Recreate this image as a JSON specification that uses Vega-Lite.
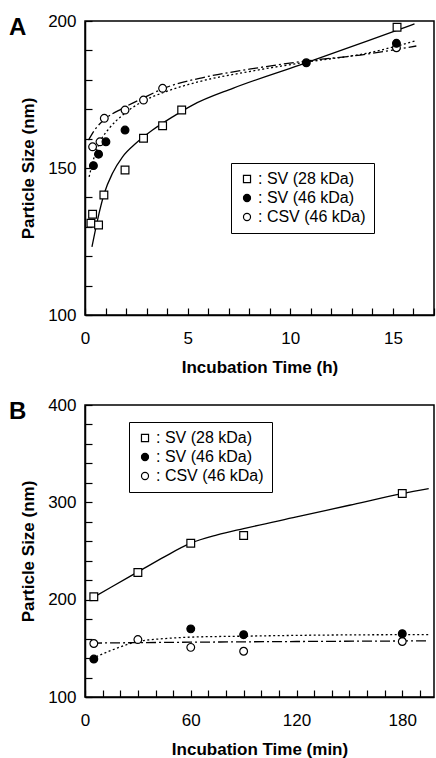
{
  "$schema": "https://vega.github.io/schema/vega-lite/v6.json",
  "background": "white",
  "padding": {"left": 8, "top": 11, "right": 0, "bottom": 0},
  "config": {
    "font": "Liberation Sans",
    "view": {"stroke": "black", "strokeWidth": 1.5},
    "axis": {
      "grid": false,
      "domainColor": "black",
      "domainWidth": 1.5,
      "ticks": true,
      "tickColor": "black",
      "tickOpacity": 1,
      "tickWidth": 1.2,
      "tickSize": -7,
      "labelColor": "black",
      "labelFont": "Liberation Sans",
      "labelFontSize": 17,
      "labelFlush": false,
      "labelOverlap": false,
      "labelBound": false,
      "titleFont": "Liberation Sans",
      "titleFontSize": 17,
      "titleFontWeight": "bold",
      "titleColor": "black"
    },
    "legend": {
      "strokeColor": "black",
      "padding": 8,
      "labelFont": "Liberation Sans",
      "labelFontSize": 16,
      "labelColor": "black",
      "labelOffset": 3,
      "rowPadding": 3,
      "symbolSize": 50
    },
    "concat": {"spacing": 19}
  },
  "datasets": {
    "pointsA": [
      {"series": "SV (28 kDa)", "t": 0.29, "size": 131.2},
      {"series": "SV (28 kDa)", "t": 0.37, "size": 134.3},
      {"series": "SV (28 kDa)", "t": 0.66, "size": 130.6},
      {"series": "SV (28 kDa)", "t": 0.92, "size": 140.8},
      {"series": "SV (28 kDa)", "t": 1.95, "size": 149.3},
      {"series": "SV (28 kDa)", "t": 2.85, "size": 160.1},
      {"series": "SV (28 kDa)", "t": 3.78, "size": 164.4},
      {"series": "SV (28 kDa)", "t": 4.71, "size": 169.7},
      {"series": "SV (28 kDa)", "t": 15.2, "size": 197.9},
      {"series": "CSV (46 kDa)", "t": 0.37, "size": 157.2},
      {"series": "CSV (46 kDa)", "t": 0.73, "size": 158.9},
      {"series": "CSV (46 kDa)", "t": 0.94, "size": 166.9},
      {"series": "CSV (46 kDa)", "t": 1.95, "size": 169.7},
      {"series": "CSV (46 kDa)", "t": 2.85, "size": 173.1},
      {"series": "CSV (46 kDa)", "t": 3.78, "size": 177.1},
      {"series": "CSV (46 kDa)", "t": 15.17, "size": 190.9},
      {"series": "SV (46 kDa)", "t": 0.41, "size": 150.8},
      {"series": "SV (46 kDa)", "t": 0.66, "size": 154.7},
      {"series": "SV (46 kDa)", "t": 1.02, "size": 158.9},
      {"series": "SV (46 kDa)", "t": 1.95, "size": 162.9},
      {"series": "SV (46 kDa)", "t": 10.78, "size": 185.8},
      {"series": "SV (46 kDa)", "t": 15.17, "size": 192.4}
    ],
    "curvesA": [
      {"series": "SV (28 kDa)", "t": 0.34, "size": 123.2},
      {"series": "SV (28 kDa)", "t": 0.61, "size": 132.3},
      {"series": "SV (28 kDa)", "t": 0.94, "size": 141.4},
      {"series": "SV (28 kDa)", "t": 1.34, "size": 148.2},
      {"series": "SV (28 kDa)", "t": 1.83, "size": 153.8},
      {"series": "SV (28 kDa)", "t": 2.48, "size": 158.4},
      {"series": "SV (28 kDa)", "t": 3.29, "size": 162.9},
      {"series": "SV (28 kDa)", "t": 4.27, "size": 167.4},
      {"series": "SV (28 kDa)", "t": 5.24, "size": 171.4},
      {"series": "SV (28 kDa)", "t": 7.2, "size": 177.1},
      {"series": "SV (28 kDa)", "t": 10.45, "size": 185.0},
      {"series": "SV (28 kDa)", "t": 13.7, "size": 193.1},
      {"series": "SV (28 kDa)", "t": 16.05, "size": 199.0},
      {"series": "SV (46 kDa)", "t": 0.2, "size": 147.0},
      {"series": "SV (46 kDa)", "t": 0.45, "size": 153.8},
      {"series": "SV (46 kDa)", "t": 0.78, "size": 159.5},
      {"series": "SV (46 kDa)", "t": 1.18, "size": 163.5},
      {"series": "SV (46 kDa)", "t": 1.83, "size": 168.0},
      {"series": "SV (46 kDa)", "t": 2.8, "size": 172.6},
      {"series": "SV (46 kDa)", "t": 3.95, "size": 176.0},
      {"series": "SV (46 kDa)", "t": 5.57, "size": 179.4},
      {"series": "SV (46 kDa)", "t": 8.0, "size": 182.8},
      {"series": "SV (46 kDa)", "t": 10.76, "size": 186.0},
      {"series": "SV (46 kDa)", "t": 13.7, "size": 189.0},
      {"series": "SV (46 kDa)", "t": 16.14, "size": 193.3},
      {"series": "CSV (46 kDa)", "t": 0.17, "size": 159.5},
      {"series": "CSV (46 kDa)", "t": 0.53, "size": 163.5},
      {"series": "CSV (46 kDa)", "t": 1.02, "size": 166.9},
      {"series": "CSV (46 kDa)", "t": 1.83, "size": 170.3},
      {"series": "CSV (46 kDa)", "t": 2.8, "size": 173.7},
      {"series": "CSV (46 kDa)", "t": 3.95, "size": 177.4},
      {"series": "CSV (46 kDa)", "t": 5.57, "size": 180.5},
      {"series": "CSV (46 kDa)", "t": 8.0, "size": 183.6},
      {"series": "CSV (46 kDa)", "t": 10.76, "size": 186.4},
      {"series": "CSV (46 kDa)", "t": 13.7, "size": 188.7},
      {"series": "CSV (46 kDa)", "t": 16.14, "size": 191.5}
    ],
    "pointsB": [
      {"series": "SV (28 kDa)", "t": 5, "size": 203},
      {"series": "SV (28 kDa)", "t": 30, "size": 228},
      {"series": "SV (28 kDa)", "t": 60, "size": 258},
      {"series": "SV (28 kDa)", "t": 90, "size": 266},
      {"series": "SV (28 kDa)", "t": 180, "size": 309},
      {"series": "CSV (46 kDa)", "t": 5, "size": 155},
      {"series": "CSV (46 kDa)", "t": 30, "size": 159},
      {"series": "CSV (46 kDa)", "t": 60, "size": 151},
      {"series": "CSV (46 kDa)", "t": 90, "size": 147},
      {"series": "CSV (46 kDa)", "t": 180, "size": 157},
      {"series": "SV (46 kDa)", "t": 5, "size": 139},
      {"series": "SV (46 kDa)", "t": 60, "size": 170},
      {"series": "SV (46 kDa)", "t": 90, "size": 164},
      {"series": "SV (46 kDa)", "t": 180, "size": 165}
    ],
    "curvesB": [
      {"series": "SV (28 kDa)", "t": 4, "size": 201.5},
      {"series": "SV (28 kDa)", "t": 15, "size": 213},
      {"series": "SV (28 kDa)", "t": 30, "size": 228.5},
      {"series": "SV (28 kDa)", "t": 45, "size": 244},
      {"series": "SV (28 kDa)", "t": 60, "size": 258},
      {"series": "SV (28 kDa)", "t": 75, "size": 266.5},
      {"series": "SV (28 kDa)", "t": 90, "size": 273},
      {"series": "SV (28 kDa)", "t": 120, "size": 285},
      {"series": "SV (28 kDa)", "t": 150, "size": 297},
      {"series": "SV (28 kDa)", "t": 180, "size": 309},
      {"series": "SV (28 kDa)", "t": 195, "size": 314},
      {"series": "SV (46 kDa)", "t": 4, "size": 139.5},
      {"series": "SV (46 kDa)", "t": 15, "size": 148},
      {"series": "SV (46 kDa)", "t": 30, "size": 157},
      {"series": "SV (46 kDa)", "t": 45, "size": 160},
      {"series": "SV (46 kDa)", "t": 60, "size": 161.5},
      {"series": "SV (46 kDa)", "t": 90, "size": 162.5},
      {"series": "SV (46 kDa)", "t": 120, "size": 163.3},
      {"series": "SV (46 kDa)", "t": 180, "size": 164},
      {"series": "SV (46 kDa)", "t": 195, "size": 164},
      {"series": "CSV (46 kDa)", "t": 4, "size": 155.4},
      {"series": "CSV (46 kDa)", "t": 60, "size": 156.3},
      {"series": "CSV (46 kDa)", "t": 120, "size": 157},
      {"series": "CSV (46 kDa)", "t": 195, "size": 157.7}
    ]
  },
  "vconcat": [
    {
      "width": 349,
      "height": 294,
      "title": {"text": "A", "anchor": "start", "frame": "group", "fontSize": 24, "fontWeight": "bold", "color": "black", "baseline": "top", "offset": -29, "dx": -76, "dy": -1},
      "encoding": {
        "x": {"field": "t", "type": "quantitative", "scale": {"domain": [0, 17], "nice": false},
              "axis": {"title": "Incubation Time (h)", "tickCount": 17, "labelExpr": "datum.value % 5 === 0 ? datum.label : ''", "labelOverlap": false,
                       "ticks": true, "tickSize": -7, "tickColor": "black", "labelPadding": 22.5, "titlePadding": 12.5}},
        "y": {"field": "size", "type": "quantitative", "scale": {"domain": [100, 200], "nice": false},
              "axis": {"title": "Particle Size (nm)", "tickCount": 10, "labelExpr": "datum.value % 50 === 0 ? datum.label : ''", "labelOverlap": false,
                       "ticks": true, "tickSize": -7, "tickColor": "black", "labelPadding": 16, "titlePadding": 10}}
      },
      "layer": [
        {
          "data": {"name": "curvesA"},
          "transform": [{"filter": "datum.series === 'SV (28 kDa)'"}],
          "mark": {"type": "line", "interpolate": "monotone", "color": "black", "strokeWidth": 1.3, "clip": true}
        },
        {
          "data": {"name": "curvesA"},
          "transform": [{"filter": "datum.series === 'SV (46 kDa)'"}],
          "mark": {"type": "line", "interpolate": "monotone", "color": "black", "strokeWidth": 1.3, "strokeDash": [2, 2.5], "clip": true}
        },
        {
          "data": {"name": "curvesA"},
          "transform": [{"filter": "datum.series === 'CSV (46 kDa)'"}],
          "mark": {"type": "line", "interpolate": "monotone", "color": "black", "strokeWidth": 1.3, "strokeDash": [10, 3, 2, 3], "clip": true}
        },
        {
          "data": {"name": "pointsA"},
          "mark": {"type": "point", "filled": true, "stroke": "black", "strokeWidth": 1.2, "size": 60, "opacity": 1},
          "encoding": {
            "shape": {"field": "series", "type": "nominal", "title": null,
                  "scale": {"domain": ["SV (28 kDa)", "SV (46 kDa)", "CSV (46 kDa)"], "range": ["square", "circle", "circle"]},
                  "legend": {"orient": "none", "legendX": 146, "legendY": 142, "labelExpr": "': ' + datum.label", "symbolStrokeColor": "black", "symbolStrokeWidth": 1.2}},
            "fill": {"field": "series", "type": "nominal", "title": null,
                  "scale": {"domain": ["SV (28 kDa)", "SV (46 kDa)", "CSV (46 kDa)"], "range": ["white", "black", "white"]},
                  "legend": {"orient": "none", "legendX": 146, "legendY": 142, "labelExpr": "': ' + datum.label", "symbolStrokeColor": "black", "symbolStrokeWidth": 1.2}},
            "stroke": {"field": "series", "type": "nominal", "title": null,
                  "scale": {"domain": ["SV (28 kDa)", "SV (46 kDa)", "CSV (46 kDa)"], "range": ["black", "black", "black"]},
                  "legend": {"orient": "none", "legendX": 146, "legendY": 142, "labelExpr": "': ' + datum.label", "symbolStrokeColor": "black", "symbolStrokeWidth": 1.2}}
          }
        }
      ]
    },
    {
      "width": 349,
      "height": 292,
      "title": {"text": "B", "anchor": "start", "frame": "group", "fontSize": 24, "fontWeight": "bold", "color": "black", "baseline": "top", "offset": -29, "dx": -76, "dy": -1},
      "encoding": {
        "x": {"field": "t", "type": "quantitative", "scale": {"domain": [0, 198], "nice": false},
              "axis": {"title": "Incubation Time (min)", "tickCount": 20, "labelExpr": "datum.value % 60 === 0 ? datum.label : ''", "labelOverlap": false,
                       "ticks": true, "tickSize": -7, "tickColor": "black", "labelPadding": 22.5, "titlePadding": 12.5}},
        "y": {"field": "size", "type": "quantitative", "scale": {"domain": [100, 400], "nice": false},
              "axis": {"title": "Particle Size (nm)", "tickCount": 15, "labelExpr": "datum.value % 100 === 0 ? datum.label : ''", "labelOverlap": false,
                       "ticks": true, "tickSize": -7, "tickColor": "black", "labelPadding": 16, "titlePadding": 10}}
      },
      "layer": [
        {
          "data": {"name": "curvesB"},
          "transform": [{"filter": "datum.series === 'SV (28 kDa)'"}],
          "mark": {"type": "line", "interpolate": "monotone", "color": "black", "strokeWidth": 1.3, "clip": true}
        },
        {
          "data": {"name": "curvesB"},
          "transform": [{"filter": "datum.series === 'SV (46 kDa)'"}],
          "mark": {"type": "line", "interpolate": "monotone", "color": "black", "strokeWidth": 1.3, "strokeDash": [2, 2.5], "clip": true}
        },
        {
          "data": {"name": "curvesB"},
          "transform": [{"filter": "datum.series === 'CSV (46 kDa)'"}],
          "mark": {"type": "line", "interpolate": "monotone", "color": "black", "strokeWidth": 1.3, "strokeDash": [10, 3, 2, 3], "clip": true}
        },
        {
          "data": {"name": "pointsB"},
          "mark": {"type": "point", "filled": true, "stroke": "black", "strokeWidth": 1.2, "size": 60, "opacity": 1},
          "encoding": {
            "shape": {"field": "series", "type": "nominal", "title": null,
                  "scale": {"domain": ["SV (28 kDa)", "SV (46 kDa)", "CSV (46 kDa)"], "range": ["square", "circle", "circle"]},
                  "legend": {"orient": "none", "legendX": 44, "legendY": 17, "labelExpr": "': ' + datum.label", "symbolStrokeColor": "black", "symbolStrokeWidth": 1.2}},
            "fill": {"field": "series", "type": "nominal", "title": null,
                  "scale": {"domain": ["SV (28 kDa)", "SV (46 kDa)", "CSV (46 kDa)"], "range": ["white", "black", "white"]},
                  "legend": {"orient": "none", "legendX": 44, "legendY": 17, "labelExpr": "': ' + datum.label", "symbolStrokeColor": "black", "symbolStrokeWidth": 1.2}},
            "stroke": {"field": "series", "type": "nominal", "title": null,
                  "scale": {"domain": ["SV (28 kDa)", "SV (46 kDa)", "CSV (46 kDa)"], "range": ["black", "black", "black"]},
                  "legend": {"orient": "none", "legendX": 44, "legendY": 17, "labelExpr": "': ' + datum.label", "symbolStrokeColor": "black", "symbolStrokeWidth": 1.2}}
          }
        }
      ]
    }
  ],
  "resolve": {
    "scale": {"shape": "independent", "fill": "independent", "stroke": "independent"}
  }
}
